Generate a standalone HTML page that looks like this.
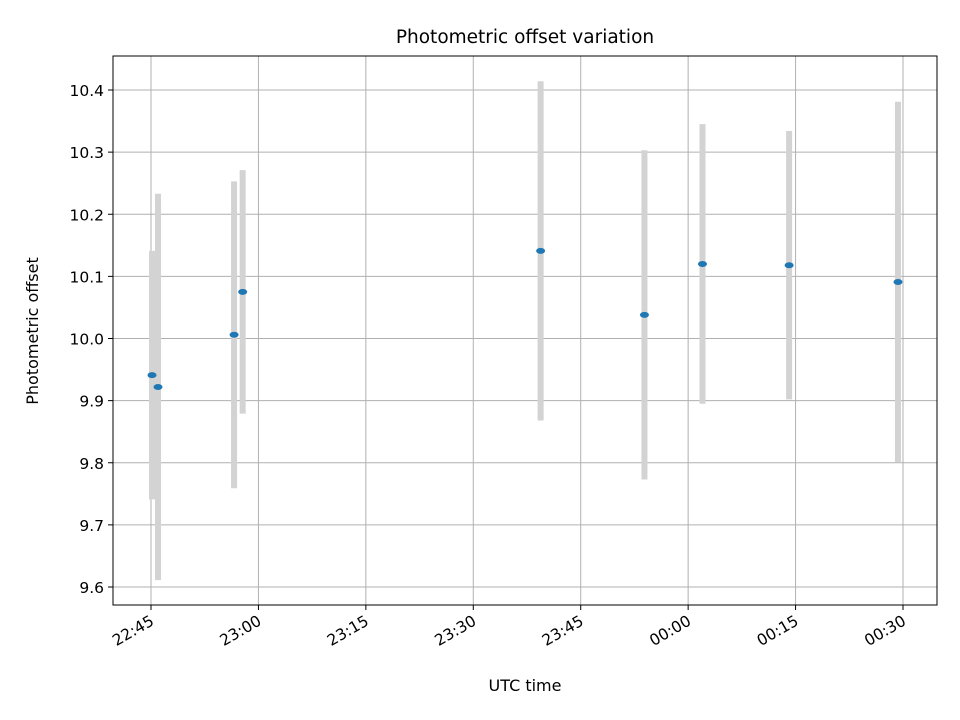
<!DOCTYPE html>
<html><head><meta charset="utf-8"><style>
body{margin:0;background:#fff}
svg{display:block;font-family:"DejaVu Sans","Liberation Sans",sans-serif}
</style></head><body>
<svg id="chart" width="960" height="720" viewBox="0 0 960 720">
<rect width="960" height="720" fill="#fff"/>
<g id="grid"></g><g id="bars"></g><g id="pts"></g><g id="axes"></g>
<text x="525" y="43" text-anchor="middle" font-size="18.5">Photometric offset variation</text>
<text x="525" y="691" text-anchor="middle" font-size="16">UTC time</text>
<text transform="translate(38,331) rotate(-90)" text-anchor="middle" font-size="16">Photometric offset</text>
</svg>
<script>
// minutes after 22:45 UTC
const times=[0.14,0.98,11.6,12.8,54.4,68.9,77.0,89.1,104.3];
const offsets=[9.941,9.922,10.006,10.075,10.141,10.038,10.120,10.118,10.091];
const errors=[0.200,0.311,0.247,0.196,0.273,0.265,0.225,0.216,0.290];
const xTicks=[0,15,30,45,60,75,90,105];
const xTickLabels=["22:45","23:00","23:15","23:30","23:45","00:00","00:15","00:30"];
const yTicks=[9.6,9.7,9.8,9.9,10.0,10.1,10.2,10.3,10.4];
const L=113,R=937,T=56,B=605;
const xs=m=>151+m*(903-151)/105;
const ys=v=>587-(v-9.6)*(587-90)/0.8;
const NS="http://www.w3.org/2000/svg";
function mk(tag,attrs,parent,text){const e=document.createElementNS(NS,tag);for(const k in attrs)e.setAttribute(k,attrs[k]);if(text!==undefined)e.textContent=text;parent.appendChild(e);return e;}
const grid=document.getElementById('grid'),axes=document.getElementById('axes'),bars=document.getElementById('bars'),pts=document.getElementById('pts');
xTicks.forEach((t,i)=>{const x=xs(t);
 const g=mk('line',{x1:x,x2:x,y1:T,y2:B,stroke:'#b0b0b0','stroke-width':1},grid);
 
 
 mk('line',{x1:x,x2:x,y1:B,y2:B+5,stroke:'#000'},axes);
 const ax=x+4, ay=B+19;
 const lb=mk('text',{x:ax,y:ay,'text-anchor':'end','font-size':15.5,transform:`rotate(-30 ${ax} ${ay})`},axes,xTickLabels[i]);
 
 
});
yTicks.forEach(v=>{const y=ys(v);
 const g=mk('line',{x1:L,x2:R,y1:y,y2:y,stroke:'#b0b0b0','stroke-width':1},grid);
 
 
 mk('line',{x1:L-5,x2:L,y1:y,y2:y,stroke:'#000'},axes);
 const lb=mk('text',{x:L-9,y:y+6,'text-anchor':'end','font-size':15.5},axes,v.toFixed(1));
 
 
});
const fr=mk('rect',{x:L,y:T,width:R-L,height:B-T,fill:'none',stroke:'#000','stroke-width':1},axes);


times.forEach((t,i)=>{const x=xs(t);
 const b=mk('line',{x1:x,x2:x,y1:ys(offsets[i]+errors[i]),y2:ys(offsets[i]-errors[i]),stroke:'#d3d3d3','stroke-width':6},bars);
 
 
 const p=mk('ellipse',{cx:x,cy:ys(offsets[i]),rx:4.5,ry:3,fill:'#1f77b4'},pts);
 
 
});
</script>
</body></html>
